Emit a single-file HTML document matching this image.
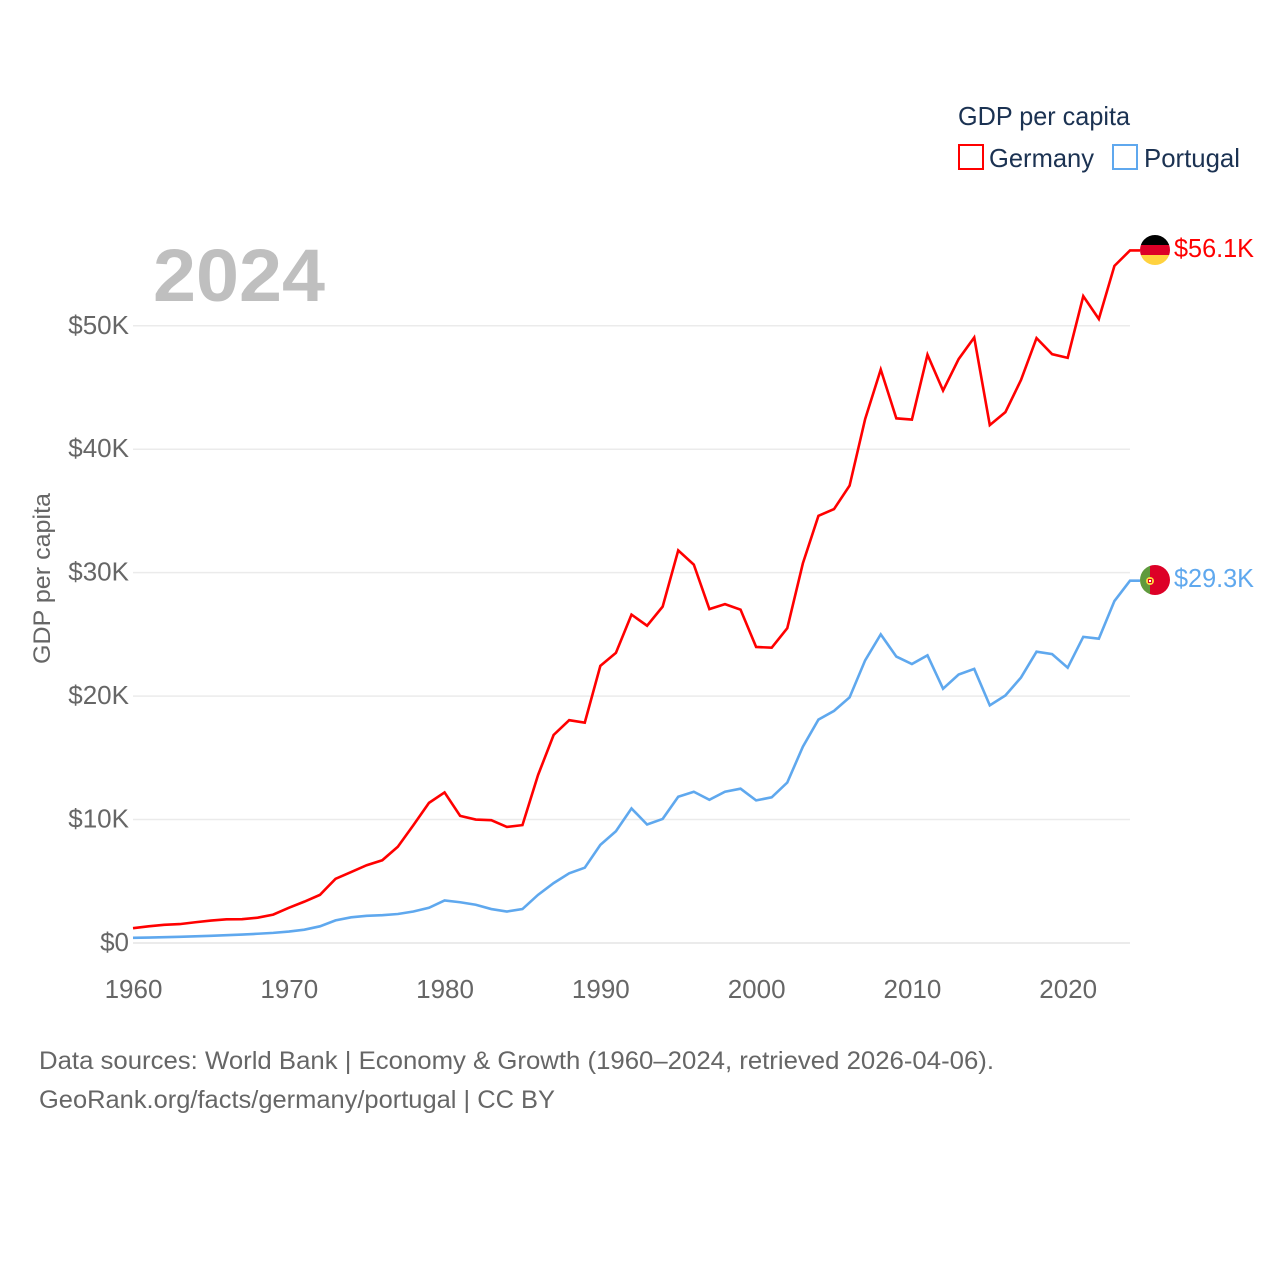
<!DOCTYPE html>
<html lang="en">
<head>
<meta charset="utf-8">
<title>GDP per capita: Germany and Portugal</title>
<style>
html,body{margin:0;padding:0;background:#fff}
svg{display:block}
text{font-family:"Liberation Sans",sans-serif}
</style>
</head>
<body>
<svg id="chart" width="1280" height="1280" viewBox="0 0 1280 1280" xmlns="http://www.w3.org/2000/svg">
  <rect width="1280" height="1280" fill="#fff"/>
  <defs>
    <clipPath id="clip-de"><circle cx="1155" cy="250" r="15"/></clipPath>
    <clipPath id="clip-pt"><circle cx="1155" cy="580" r="15"/></clipPath>
  </defs>
  <g id="grid"></g>
  <text x="153" y="301" font-size="74" font-weight="700" fill="#bfbfbf" textLength="172" lengthAdjust="spacingAndGlyphs">2024</text>
  <g id="yticks"></g>
  <g id="xticks"></g>
  <text transform="translate(50,664) rotate(-90)" font-size="24.5" fill="#666" textLength="171" lengthAdjust="spacingAndGlyphs">GDP per capita</text>
  <g id="series"></g>

  <g clip-path="url(#clip-de)">
    <rect x="1140" y="235" width="30" height="10" fill="#000"/>
    <rect x="1140" y="245" width="30" height="10" fill="#dd0027"/>
    <rect x="1140" y="255" width="30" height="10" fill="#ffd23f"/>
  </g>
  <g clip-path="url(#clip-pt)">
    <rect x="1140" y="565" width="10" height="30" fill="#5f9a3c"/>
    <rect x="1150" y="565" width="20" height="30" fill="#dd0027"/>
    <circle cx="1150" cy="581" r="4" fill="#ffd23f"/>
    <rect x="1148" y="579" width="4" height="4" fill="#dd0027"/>
    <rect x="1149" y="580" width="2" height="2" fill="#fff"/>
  </g>
  <text id="label-de" x="1174" y="257" font-size="26" fill="#ff0000" textLength="80" lengthAdjust="spacingAndGlyphs"></text>
  <text id="label-pt" x="1174" y="587" font-size="26" fill="#5fa8ee" textLength="80" lengthAdjust="spacingAndGlyphs"></text>

  <g>
    <text x="958" y="125" font-size="26" fill="#1b3252" textLength="172" lengthAdjust="spacingAndGlyphs">GDP per capita</text>
    <g>
      <rect x="959" y="145" width="24" height="24" fill="#fff" stroke="#ff0000" stroke-width="2"/>
      <text x="989" y="167" font-size="26" fill="#1b3252" textLength="105" lengthAdjust="spacingAndGlyphs">Germany</text>
    </g>
    <g>
      <rect x="1113" y="145" width="24" height="24" fill="#fff" stroke="#5fa8ee" stroke-width="2"/>
      <text x="1144" y="167" font-size="26" fill="#1b3252" textLength="96" lengthAdjust="spacingAndGlyphs">Portugal</text>
    </g>
  </g>

  <text x="39" y="1069" font-size="25" fill="#666" textLength="955" lengthAdjust="spacingAndGlyphs">Data sources: World Bank | Economy &amp; Growth (1960–2024, retrieved 2026-04-06).</text>
  <text x="39" y="1108" font-size="25" fill="#666" textLength="516" lengthAdjust="spacingAndGlyphs">GeoRank.org/facts/germany/portugal | CC BY</text>
</svg>
<script>
const years = [1960,1961,1962,1963,1964,1965,1966,1967,1968,1969,1970,1971,1972,1973,1974,1975,1976,1977,1978,1979,1980,1981,1982,1983,1984,1985,1986,1987,1988,1989,1990,1991,1992,1993,1994,1995,1996,1997,1998,1999,2000,2001,2002,2003,2004,2005,2006,2007,2008,2009,2010,2011,2012,2013,2014,2015,2016,2017,2018,2019,2020,2021,2022,2023,2024];
const germany = [1.2,1.35,1.47,1.53,1.68,1.82,1.92,1.93,2.05,2.3,2.85,3.35,3.9,5.2,5.75,6.3,6.7,7.8,9.55,11.35,12.2,10.3,10.0,9.95,9.4,9.55,13.6,16.85,18.05,17.85,22.45,23.5,26.6,25.7,27.25,31.8,30.65,27.05,27.45,27.0,23.98,23.92,25.5,30.75,34.6,35.15,37.05,42.45,46.45,42.5,42.4,47.65,44.75,47.3,49.05,41.95,43.0,45.6,49.0,47.7,47.4,52.4,50.55,54.85,56.1];
const portugal = [0.42,0.44,0.47,0.5,0.54,0.58,0.63,0.68,0.75,0.82,0.93,1.08,1.35,1.83,2.08,2.2,2.25,2.35,2.55,2.85,3.45,3.3,3.1,2.75,2.55,2.75,3.9,4.85,5.65,6.1,7.95,9.05,10.9,9.6,10.05,11.85,12.25,11.6,12.25,12.5,11.55,11.8,13.0,15.9,18.1,18.8,19.9,22.9,25.0,23.2,22.6,23.3,20.6,21.75,22.2,19.25,20.05,21.5,23.6,23.4,22.3,24.8,24.65,27.7,29.35];
const yTickValues = [0,10,20,30,40,50];
const yTickLabels = ["$0","$10K","$20K","$30K","$40K","$50K"];
const xTickValues = [1960,1970,1980,1990,2000,2010,2020];
const xTickLabels = ["1960","1970","1980","1990","2000","2010","2020"];
const endLabels = ["$56.1K","$29.3K"];

const NS = "http://www.w3.org/2000/svg";
const x = year => 133 + (year - 1960) * (1130 - 133) / 64;
const y = value => 943 - value * 12.345;
function make(tag, attrs, parent) {
  const el = document.createElementNS(NS, tag);
  for (const k in attrs) el.setAttribute(k, attrs[k]);
  parent.appendChild(el);
  return el;
}
const gridG = document.getElementById("grid");
const yG = document.getElementById("yticks");
const xG = document.getElementById("xticks");
const seriesG = document.getElementById("series");

yTickValues.forEach((v, i) => {
  const line = make("line", {x1: 133, x2: 1130, y1: y(v), y2: y(v), stroke: "#ebebeb", "stroke-width": v === 0 ? 2 : 1.5}, gridG);
  
  
  const t = make("text", {x: 129, y: y(v) + 8, "text-anchor": "end", "font-size": 26, fill: "#666"}, yG);
  
  
  t.textContent = yTickLabels[i];
});
xTickValues.forEach((v, i) => {
  const t = make("text", {x: x(v) + 0.5, y: 998, "text-anchor": "middle", "font-size": 26, fill: "#666"}, xG);
  
  
  t.textContent = xTickLabels[i];
});
function drawSeries(values, color, name) {
  const pts = values.map((v, i) => x(years[i]).toFixed(2) + "," + y(v).toFixed(2));
  const last = values[values.length - 1];
  pts.push("1140," + y(last).toFixed(2));
  const p = make("polyline", {points: pts.join(" "), fill: "none", stroke: color, "stroke-width": 2.6, "stroke-linejoin": "miter"}, seriesG);
  
  
}
drawSeries(portugal, "#5fa8ee", "portugal-line");
drawSeries(germany, "#ff0000", "germany-line");
document.getElementById("label-de").textContent = endLabels[0];
document.getElementById("label-pt").textContent = endLabels[1];
</script>
</body>
</html>
